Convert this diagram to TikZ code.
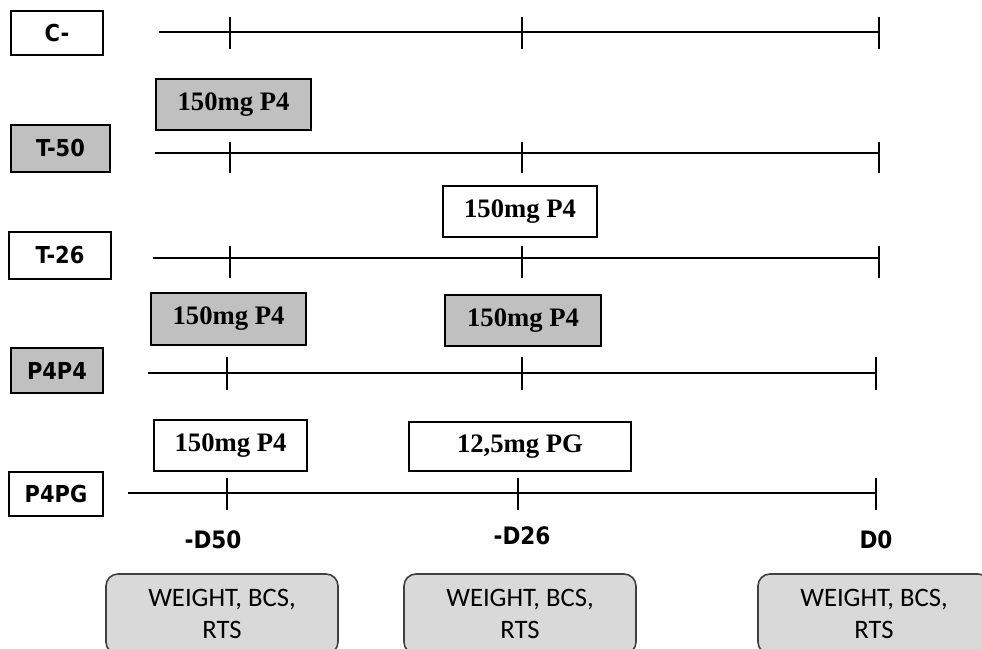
\documentclass[tikz,border=0pt]{standalone}
\usepackage{fontspec}
\setmainfont{Liberation Serif}
\newfontfamily\grpfont{DejaVu Sans Condensed}
\newfontfamily\measfont{Carlito}
\definecolor{boxgray}{RGB}{192,192,192}
\definecolor{measgray}{RGB}{217,217,217}

\begin{document}
\begin{tikzpicture}[x=0.75pt,y=-0.75pt,line width=1pt]
    \tikzstyle{group}=[draw=black,line width=1.2pt,inner sep=0pt,font=\grpfont\bfseries\fontsize{17.5}{20}\selectfont]
    \tikzstyle{dose}=[draw=black,line width=1.2pt,inner sep=0pt,font=\bfseries\fontsize{20}{23}\selectfont]
    \tikzstyle{day}=[inner sep=0pt,font=\grpfont\bfseries\fontsize{18}{20}\selectfont]
    \tikzstyle{meas}=[draw=black!75,line width=1.2pt,fill=measgray,rounded corners=9pt,minimum width=174pt,minimum height=60pt,align=center,inner sep=0pt,font=\measfont\fontsize{20}{24}\selectfont]

    \useasboundingbox (0,0) rectangle (982,649);
    \clip (0,0) rectangle (982,649);

    % group labels
    \foreach \g/\txt/\col/\x/\y/\w/\h in {C/C-/white/57/33/69/33,
            T50/T-50/boxgray/60.5/148.5/74.25/35.25,
            T26/T-26/white/60/255.5/76.5/35.25,
            P4P4/P4P4/boxgray/57/370.5/69/33.75,
            P4PG/P4PG/white/56/494/70.5/33}
        \node[group,fill=\col,minimum width=\w pt,minimum height=\h pt] (lbl-\g) at (\x,\y) {\txt};

    % timelines
    \foreach \r/\y/\s/\a/\b/\e/\u/\d in {C/32/159/230/522/879/15/17,
            T50/153/155/230/522/879/11/20,
            T26/258/153/230/522/879/12/20,
            P4P4/373/148/227/522/876/16/17,
            P4PG/493/128/227/518/876/15/17}{
        \coordinate (\r-s) at (\s,\y);
        \coordinate (\r-a) at (\a,\y);
        \coordinate (\r-b) at (\b,\y);
        \coordinate (\r-e) at (\e,\y);
        \draw (\r-s) -- (\r-e);
        \foreach \t in {a,b,e}
            \draw (\r-\t) ++(0,-\u) -- ++(0,\u+\d);
    }

    % treatments
    \node[dose,fill=boxgray,minimum width=116.25pt,minimum height=38.25pt] (t50-p4) at (233.5,104.5) {150mg P4};
    \node[dose,fill=white,minimum width=115.5pt,minimum height=38.25pt] (t26-p4) at (520,211.5) {150mg P4};
    \node[dose,fill=boxgray,minimum width=116.25pt,minimum height=39pt] (p4p4-a) at (228.5,319) {150mg P4};
    \node[dose,fill=boxgray,minimum width=117pt,minimum height=38.25pt] (p4p4-b) at (523,320.5) {150mg P4};
    \node[dose,fill=white,minimum width=114.75pt,minimum height=38.25pt] (p4pg-a) at (230.5,445.5) {150mg P4};
    \node[dose,fill=white,minimum width=166.5pt,minimum height=36.75pt] (p4pg-b) at (520,446.5) {12,5mg PG};

    % days
    \node[day] (d50) at (213,540) {-D50};
    \node[day] (d26) at (522,536) {-D26};
    \node[day] (d0) at (876,540) {D0};

    % measurements
    \foreach \m/\x in {d50/222, d26/520, d0/874}
        \node[meas] (meas-\m) at (\x,614) {WEIGHT, BCS,\\RTS};
\end{tikzpicture}
\end{document}
